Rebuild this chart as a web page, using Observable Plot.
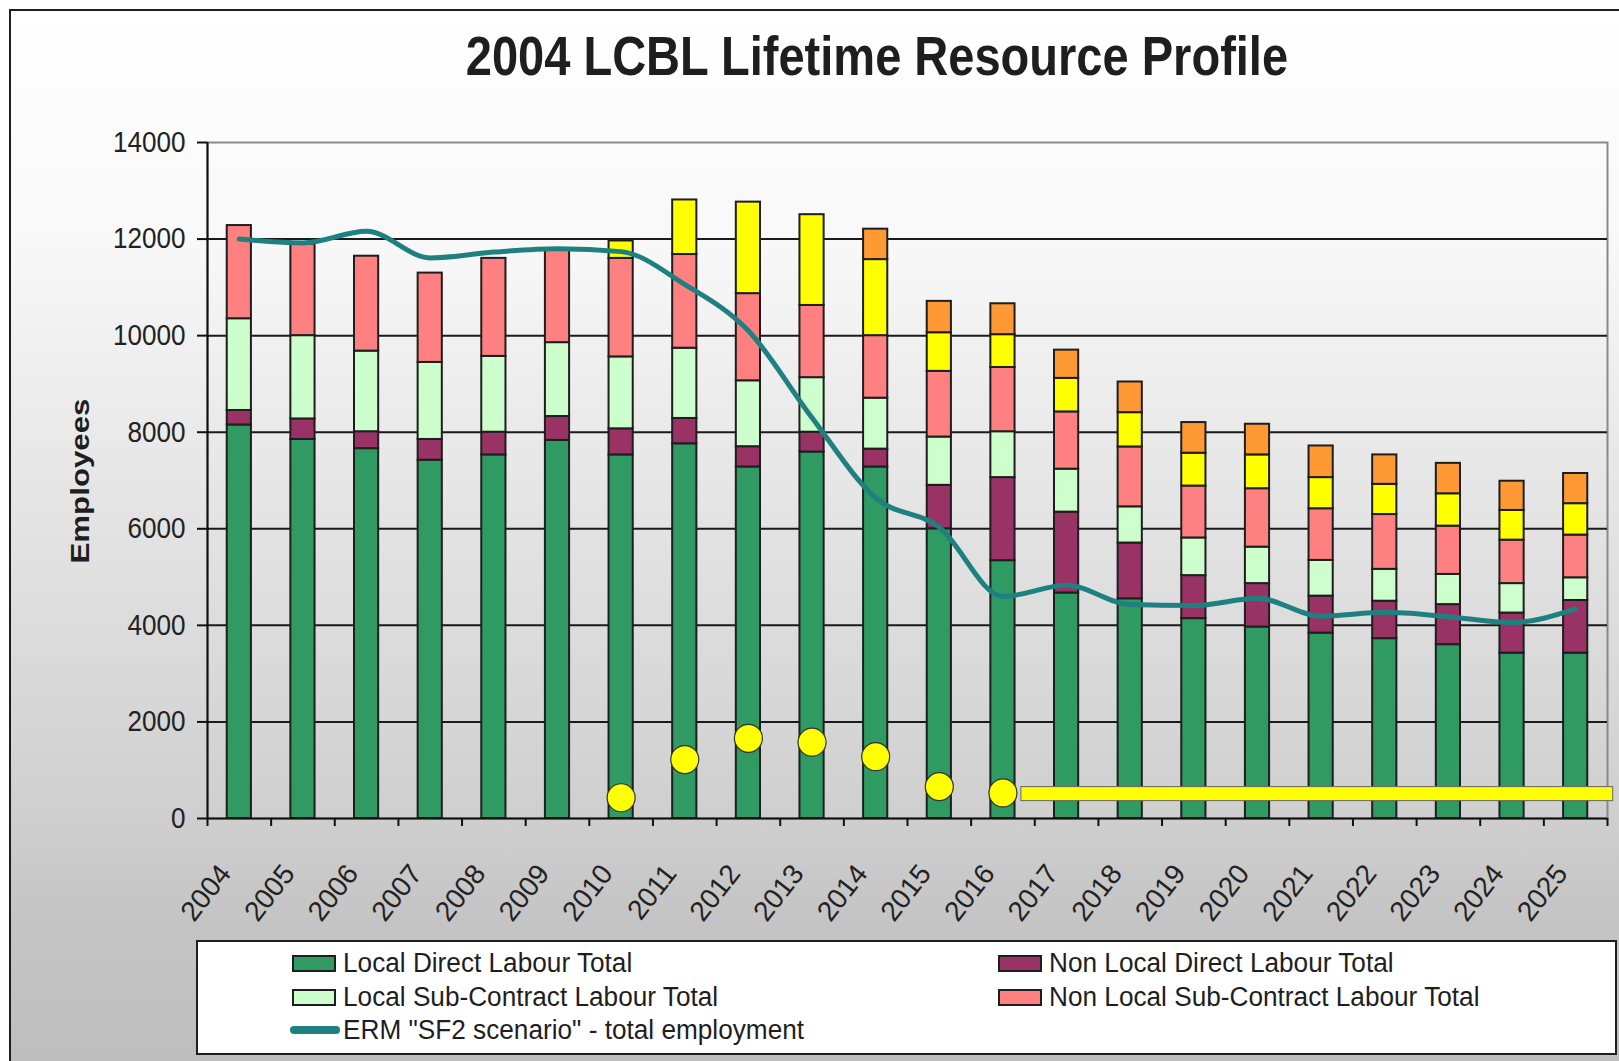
<!DOCTYPE html>
<html><head><meta charset="utf-8">
<script src="https://cdn.jsdelivr.net/npm/d3@7"></script>
<script src="https://cdn.jsdelivr.net/npm/@observablehq/plot@0.6"></script>
<style>
html,body{margin:0;padding:0;background:#fff;}
#wrap{position:relative;width:1619px;height:1061px;overflow:hidden;background:#fff;font-family:"Liberation Sans",Arial,sans-serif;color:#1e1e1e;}
#frame{position:absolute;left:9px;top:9px;width:1620px;height:1060px;border-left:2px solid #1e1e1e;border-top:2px solid #1e1e1e;
 background:linear-gradient(to bottom,#ffffff 0%,#f8f8f8 22%,#ebebeb 38%,#cfcfcf 76%,#c5c5c5 85%,#bdbdbd 100%);}
#title{position:absolute;left:0;width:1754px;top:29px;text-align:center;font-weight:bold;font-size:55px;line-height:55px;white-space:nowrap;}
#title span{display:inline-block;transform:scaleX(0.855);}
#ylab{position:absolute;left:80px;top:481px;font-weight:bold;font-size:25px;line-height:25px;white-space:nowrap;transform:translate(-50%,-50%) rotate(-90deg) scale(1.25,1);}
#chart{position:absolute;left:0;top:0;}
#legend{position:absolute;left:196px;top:940px;width:1421px;height:115px;box-sizing:border-box;border:2px solid #1e1e1e;background:#fff;}
.item{position:absolute;height:32px;display:flex;align-items:center;font-size:27px;white-space:nowrap;}
.item span{display:inline-block;transform:scaleX(0.97);transform-origin:left center;}
.sw{width:44px;height:17px;box-sizing:border-box;border:2px solid #1e1e1e;margin-right:7px;}
.ln{width:50px;height:8px;border-radius:4px;margin-right:3px;}
</style></head>
<body>
<div id="wrap">
  <div id="frame"></div>
  <div id="title"><span></span></div>
  <div id="chart"></div>
  <div id="ylab"></div>
  <div id="legend"></div>
</div>
<script>
// ---------- data ----------
const years = [2004,2005,2006,2007,2008,2009,2010,2011,2012,2013,2014,2015,2016,2017,2018,2019,2020,2021,2022,2023,2024,2025];
const seriesNames = ["Local Direct Labour Total","Non Local Direct Labour Total","Local Sub-Contract Labour Total","Non Local Sub-Contract Labour Total"];
const localDirect    = [8150,7850,7660,7420,7530,7830,7530,7760,7280,7590,7280,6000,5340,4670,4550,4140,3965,3840,3725,3600,3425,3425];
const nonLocalDirect = [300,425,350,430,470,495,540,525,420,410,370,900,1720,1675,1155,890,900,765,775,830,830,1090];
const localSub       = [1900,1725,1670,1595,1570,1530,1490,1455,1365,1130,1055,1000,950,890,750,780,755,740,660,625,610,470];
const nonLocalSub    = [1930,1895,1965,1850,2030,1915,2040,1940,1805,1495,1295,1360,1330,1185,1240,1075,1210,1070,1135,1000,900,885];
const extraYellow    = [0,0,0,0,0,0,360,1130,1895,1880,1575,800,680,695,710,680,700,645,625,670,615,650];
const extraOrange    = [0,0,0,0,0,0,0,0,0,0,630,650,640,585,635,635,635,655,610,630,605,625];
const ermLabel = 'ERM "SF2 scenario" - total employment';
const ermTotal = [12000,11920,12160,11610,11730,11800,11740,11060,10100,8300,6640,6030,4600,4830,4430,4410,4560,4190,4270,4180,4060,4340];
const markerYears  = [2010,2011,2012,2013,2014,2015,2016];
const markerValues = [430,1220,1660,1580,1280,660,530];
const bandStart = 2016.29, bandEnd = 2025.59, bandLow = 360, bandHigh = 650;
const yTicks = [0,2000,4000,6000,8000,10000,12000,14000];
const titleText = "2004 LCBL Lifetime Resource Profile";
const yLabel = "Employees";

// ---------- styles ----------
const seriesColors = ["#2f9a62","#993366","#ccffcc","#ff8080"];
const yellow = "#ffff00", orange = "#ff9933", teal = "#1f8080", ink = "#1e1e1e";
const barHalf = 0.19;
const xDomain = [2003.5, 2025.5];

const stackSeries = [
  {values: localDirect, fill: seriesColors[0]},
  {values: nonLocalDirect, fill: seriesColors[1]},
  {values: localSub, fill: seriesColors[2]},
  {values: nonLocalSub, fill: seriesColors[3]},
  {values: extraYellow, fill: yellow},
  {values: extraOrange, fill: orange}
];
const segments = [];
years.forEach((yr, i) => {
  let base = 0;
  stackSeries.forEach(s => {
    const v = s.values[i];
    if (v > 0) { segments.push({year: yr, y1: base, y2: base + v, fill: s.fill}); base += v; }
  });
});
const ermRows = years.map((yr, i) => ({year: yr, v: ermTotal[i]}));
const markers = markerYears.map((yr, i) => ({year: yr, v: markerValues[i]}));
const band = [{x1: bandStart, x2: bandEnd, y1: bandLow, y2: bandHigh}];
const boundaries = d3.range(xDomain[0], xDomain[1] + 0.01, 1);

const chart = Plot.plot({
  width: 1619, height: 935,
  marginLeft: 207, marginRight: 12, marginTop: 142, marginBottom: 117,
  x: {type: "linear", domain: xDomain},
  y: {domain: [0, 14000]},
  color: {type: "identity"},
  style: {background: "transparent", fontFamily: "Liberation Sans, Arial, sans-serif", overflow: "visible", color: ink},
  marks: [
    Plot.frame({stroke: "#8a8a8a", strokeWidth: 2}),
    Plot.ruleY(yTicks.filter(t => t > 0 && t < 14000), {stroke: "#1a1a1a", strokeWidth: 2}),
    Plot.rect(segments, {x1: d => d.year - barHalf, x2: d => d.year + barHalf, y1: "y1", y2: "y2", fill: d => d.fill, stroke: ink, strokeWidth: 2}),
    Plot.ruleX([xDomain[0]], {stroke: "#111", strokeWidth: 2}),
    Plot.ruleY([0], {stroke: "#111", strokeWidth: 2}),
    Plot.line(ermRows, {x: "year", y: "v", stroke: teal, strokeWidth: 5, curve: "monotone-x"}),
    Plot.rect(band, {x1: "x1", x2: "x2", y1: "y1", y2: "y2", fill: yellow, stroke: "#666", strokeWidth: 1}),
    Plot.dot(markers, {x: "year", y: "v", r: 14, fill: yellow, stroke: "#333", strokeWidth: 1.2}),
    Plot.axisY({ticks: yTicks, tickSize: 10, tickPadding: 12, fontSize: 29, tickFormat: d3.format("d"), stroke: "#111", strokeWidth: 2, fill: "#222", label: null}),
    Plot.axisX({ticks: boundaries, tickSize: 8, stroke: "#111", strokeWidth: 2, fill: "none", label: null}),
    Plot.text(years, {x: d => d, text: d => String(d), frameAnchor: "bottom", rotate: -52, textAnchor: "end", lineAnchor: "middle", dx: -14, dy: 50, fontSize: 28, fill: "#222"})
  ]
});
document.getElementById("chart").appendChild(chart);

// condense y tick labels horizontally
d3.select(chart).selectAll('[aria-label="y-axis tick label"] text').each(function () {
  const t = this.getAttribute("transform");
  if (t) this.setAttribute("transform", t + " scale(0.9,1)");
  else {
    const x = +this.getAttribute("x") || 0, y = +this.getAttribute("y") || 0;
    this.removeAttribute("x"); this.removeAttribute("y");
    this.setAttribute("transform", `translate(${x},${y}) scale(0.9,1)`);
  }
});

document.querySelector("#title span").textContent = titleText;
document.getElementById("ylab").textContent = yLabel;

// legend
const legend = document.getElementById("legend");
const legendItems = [
  {label: seriesNames[0], color: seriesColors[0], left: 94, cy: 21},
  {label: seriesNames[1], color: seriesColors[1], left: 800, cy: 21},
  {label: seriesNames[2], color: seriesColors[2], left: 94, cy: 55},
  {label: seriesNames[3], color: seriesColors[3], left: 800, cy: 55},
  {label: ermLabel, color: teal, left: 92, cy: 88, line: true}
];
legendItems.forEach(it => {
  const d = document.createElement("div");
  d.className = "item";
  d.style.left = it.left + "px";
  d.style.top = (it.cy - 16) + "px";
  const sw = document.createElement("div");
  sw.className = it.line ? "ln" : "sw";
  sw.style.background = it.color;
  const tx = document.createElement("span");
  tx.textContent = it.label;
  d.appendChild(sw); d.appendChild(tx);
  legend.appendChild(d);
});
</script>
</body></html>
